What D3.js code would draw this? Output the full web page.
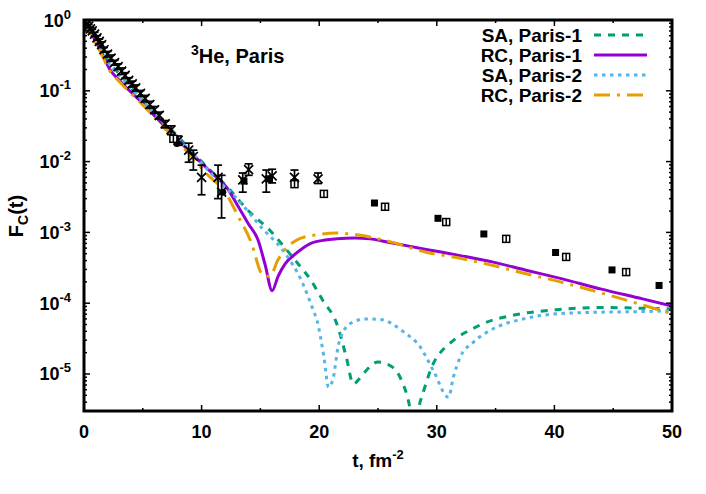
<!DOCTYPE html>
<html>
<head>
<meta charset="utf-8">
<script src="https://cdn.jsdelivr.net/npm/d3@7"></script>
<style>
    body { margin: 0; background: #fff; }
    text { font-family: "Liberation Sans", Arial, sans-serif; font-weight: bold; fill: #000; }
</style>
</head>
<body>
<div id="chart"></div>
<script>

// ---- data ----
// theory curves, [t (fm^-2), F_C]
const saParis1 = [[0,1],[0.4,0.79],[1,0.54],[1.6,0.355],[2.2,0.245],[3,0.174],[4.2,0.102],[6,0.050],[8,0.0224],[10,0.010],
    [12.4,0.0040],[14,0.0020],[15.8,0.00107],[17,6.3e-4],[18.2,3.6e-4],[19.3,2.1e-4],[20.3,1.1e-4],[21.5,5.1e-5],[22.3,1.74e-5],
    [22.9,7.2e-6],[23.5,8.9e-6],[24,1.12e-5],[25,1.48e-5],[26.2,1.26e-5],[27,8.1e-6],[27.7,3.4e-6],[28.1,1.3e-6],[28.5,3.5e-6],
    [28.9,5.9e-6],[29.7,1.4e-5],[30.3,2.0e-5],[31.1,2.7e-5],[32,3.5e-5],[33.1,4.4e-5],[34,5.2e-5],[36.8,6.9e-5],[40.2,8.1e-5],
    [44.2,8.7e-5],[47.3,8.5e-5],[50,8.3e-5]];

const rcParis1 = [[0,1],[0.4,0.76],[1,0.50],[1.6,0.32],[2.2,0.20],[3,0.141],[5,0.066],[7,0.030],[9,0.0138],[10,0.0095],
    [11,0.0066],[12.1,0.0044],[13,0.0025],[14,0.0013],[14.8,7.8e-4],[15.4,3.5e-4],[16.0,1.5e-4],[16.5,2.4e-4],[17.1,3.6e-4],
    [18,5.0e-4],[19.2,6.9e-4],[20.5,7.8e-4],[21.5,8.1e-4],[23,8.3e-4],[24.3,8.1e-4],[26,7.2e-4],[29.1,5.75e-4],[32,4.7e-4],
    [34.8,3.8e-4],[37.5,2.95e-4],[40.5,2.24e-4],[44,1.58e-4],[47.5,1.15e-4],[50,9.1e-5]];

const saParis2 = [[0,1],[0.4,0.78],[1,0.525],[1.6,0.34],[2.2,0.234],[3,0.166],[4.2,0.10],[6,0.048],[8,0.0214],[10,0.0095],
    [11.5,0.0052],[13,0.0030],[15.2,0.00112],[16.9,5.6e-4],[18.6,1.9e-4],[19.5,7.9e-5],[19.8,5.8e-5],[20.4,1.74e-5],[20.8,6.5e-6],
    [21.2,8.9e-6],[21.6,2.4e-5],[22.3,4.6e-5],[23,5.5e-5],[23.8,6.0e-5],[25.2,5.9e-5],[27.2,3.9e-5],[28.6,2.4e-5],[29.7,1.12e-5],
    [31.0,4.7e-6],[31.4,8.9e-6],[32,1.74e-5],[33.1,2.8e-5],[35.1,4.6e-5],[37.4,6.0e-5],[40.2,7.1e-5],[43,7.4e-5],[47.3,7.6e-5],
    [50,7.8e-5]];

const rcParis2 = [[0,1],[0.4,0.72],[1,0.47],[1.6,0.30],[2.2,0.19],[3,0.135],[5,0.063],[7,0.028],[9,0.0126],[10.4,0.0068],
    [12.1,0.0035],[13.1,0.0017],[14.3,6.6e-4],[15.0,2.8e-4],[15.4,2.4e-4],[15.8,2.4e-4],[16.5,4.1e-4],[17.2,6.0e-4],[18.1,7.8e-4],
    [19.5,9.1e-4],[21.5,9.8e-4],[23.5,9.1e-4],[26,7.4e-4],[29.1,5.25e-4],[32,4.3e-4],[34.8,3.4e-4],[37.5,2.63e-4],[40.5,2.0e-4],
    [43,1.55e-4],[45.6,1.17e-4],[48,8.9e-5],[50,7.1e-5]];

// experimental points: crosses with error bars [t, F, low, high]
const crossData = [[0.1,0.95,0.91,0.99],[0.25,0.88,0.84,0.92],[0.4,0.82,0.78,0.86],[0.55,0.75,0.71,0.79],[0.7,0.70,0.66,0.74],
    [0.9,0.63,0.59,0.67],[1.1,0.56,0.52,0.60],[1.3,0.50,0.46,0.54],[1.5,0.45,0.41,0.49],[1.7,0.38,0.35,0.41],[2.0,0.33,0.30,0.36],
    [2.3,0.29,0.26,0.32],[2.6,0.25,0.23,0.27],[2.9,0.22,0.20,0.24],[3.2,0.19,0.17,0.21],[3.5,0.165,0.15,0.18],[3.8,0.14,0.127,0.153],
    [4.1,0.125,0.113,0.137],[4.4,0.11,0.099,0.121],[4.8,0.092,0.083,0.101],[5.2,0.078,0.070,0.086],[5.6,0.064,0.057,0.071],
    [6.0,0.054,0.048,0.060],[6.4,0.045,0.040,0.050],[6.9,0.034,0.030,0.038],[7.4,0.028,0.024,0.032],[8.0,0.020,0.017,0.023],
    [8.9,0.0145,0.0098,0.0182],[9.3,0.0118,0.0076,0.0145],[10.0,0.0060,0.0034,0.0089],[11.4,0.0060,0.0030,0.0089],
    [11.7,0.0037,0.0016,0.0064],[13.5,0.0055,0.0037,0.0069],[14.0,0.0077,0.0064,0.0093],[15.5,0.0057,0.0037,0.0076],
    [16.0,0.0063,0.0050,0.0078],[17.9,0.0060,0.0055,0.0076],[19.9,0.0057,0.0049,0.0069]];

const circleData = [[7.9,0.018],[11.8,0.0037]];

const filledSquares = [[13.6,0.0053],[15.7,0.0057],[24.7,0.0026],[30.1,0.00158],[34.0,0.00095],[40.1,0.00052],[44.9,0.000295],[48.9,0.000178]];

const openSquares = [[7.6,0.021],[17.9,0.0048],[20.4,0.0035],[25.6,0.0023],[30.8,0.0014],[35.9,0.00081],[41.0,0.00045],[46.1,0.000275]];

// axes
const xTicks = [0, 10, 20, 30, 40, 50];
const xMinorTicks = [5, 15, 25, 35, 45];
const yTickExps = [0, -1, -2, -3, -4, -5];

const legendLabels = ["SA, Paris-1", "RC, Paris-1", "SA, Paris-2", "RC, Paris-2"];


// ---- drawing ----
const width = 706, height = 494;
const plot = {left: 84, right: 672, top: 20, bottom: 411};

const svg = d3.select("#chart").append("svg")
    .attr("width", width)
    .attr("height", height);

const x = d3.scaleLinear().domain([0, 50]).range([plot.left, plot.right]);
const y = d3.scaleLog().domain([3e-6, 1]).range([plot.bottom, plot.top]);

svg.append("clipPath").attr("id", "clip")
    .append("rect")
    .attr("x", plot.left).attr("y", plot.top)
    .attr("width", plot.right - plot.left).attr("height", plot.bottom - plot.top);

// series styles
const series = [
    {data: saParis1, color: "#009e73", dash: "7,7"},
    {data: rcParis1, color: "#9400d3", dash: null},
    {data: saParis2, color: "#56b4e9", dash: "3.5,4.5"},
    {data: rcParis2, color: "#e69f00", dash: "16,7,3,7"}
];

const line = d3.line()
    .x(d => x(d[0]))
    .y(d => y(d[1]))
    .curve(d3.curveMonotoneX);

const curves = svg.append("g").attr("clip-path", "url(#clip)");

curves.selectAll("path")
    .data(series)
    .enter().append("path")
    .attr("d", d => line(d.data))
    .attr("fill", "none")
    .attr("stroke", d => d.color)
    .attr("stroke-width", 3)
    .attr("stroke-dasharray", d => d.dash);

// data points
const pts = svg.append("g").attr("clip-path", "url(#clip)");

const errs = pts.selectAll(".err").data(crossData).enter().append("g").attr("class", "err");
errs.append("line")
    .attr("x1", d => x(d[0])).attr("x2", d => x(d[0]))
    .attr("y1", d => y(d[2])).attr("y2", d => y(d[3]));
errs.append("line")
    .attr("x1", d => x(d[0]) - 4).attr("x2", d => x(d[0]) + 4)
    .attr("y1", d => y(d[2])).attr("y2", d => y(d[2]));
errs.append("line")
    .attr("x1", d => x(d[0]) - 4).attr("x2", d => x(d[0]) + 4)
    .attr("y1", d => y(d[3])).attr("y2", d => y(d[3]));
errs.append("path")
    .attr("d", d => {
        let cx = x(d[0]), cy = y(d[1]), s = 4.5;
        return `M${cx - s},${cy - s}L${cx + s},${cy + s}M${cx - s},${cy + s}L${cx + s},${cy - s}`;
    });
errs.selectAll("line, path").attr("stroke", "#000").attr("stroke-width", 1.7);

pts.selectAll(".circ").data(circleData).enter().append("circle")
    .attr("cx", d => x(d[0])).attr("cy", d => y(d[1])).attr("r", 3.5)
    .attr("fill", "#000");

pts.selectAll(".fsq").data(filledSquares).enter().append("rect")
    .attr("x", d => x(d[0]) - 3.5).attr("y", d => y(d[1]) - 3.5)
    .attr("width", 7).attr("height", 7)
    .attr("fill", "#000");

const osq = pts.selectAll(".osq").data(openSquares).enter().append("g");
osq.append("rect")
    .attr("x", d => x(d[0]) - 3.5).attr("y", d => y(d[1]) - 3.5)
    .attr("width", 7).attr("height", 7)
    .attr("fill", "#fff").attr("stroke", "#000").attr("stroke-width", 1.5);
osq.append("line")
    .attr("x1", d => x(d[0])).attr("x2", d => x(d[0]))
    .attr("y1", d => y(d[1]) - 3.5).attr("y2", d => y(d[1]) + 3.5)
    .attr("stroke", "#000").attr("stroke-width", 1.5);

// ticks (inward, mirrored)
const tickG = svg.append("g").attr("stroke", "#000").attr("stroke-width", 1.5);

xTicks.concat(xMinorTicks).forEach(t => {
    let len = xTicks.includes(t) ? 6 : 3;
    tickG.append("line").attr("x1", x(t)).attr("x2", x(t)).attr("y1", plot.bottom).attr("y2", plot.bottom - len);
    tickG.append("line").attr("x1", x(t)).attr("x2", x(t)).attr("y1", plot.top).attr("y2", plot.top + len);
});

let yMinor = [];
yTickExps.concat([-6]).forEach(e => {
    for (let m = 2; m <= 9; m++) {
        let v = m * Math.pow(10, e);
        if (v >= 3e-6 && v < 1) yMinor.push(v);
    }
});
yMinor.forEach(v => {
    tickG.append("line").attr("x1", plot.left).attr("x2", plot.left + 3).attr("y1", y(v)).attr("y2", y(v));
    tickG.append("line").attr("x1", plot.right).attr("x2", plot.right - 3).attr("y1", y(v)).attr("y2", y(v));
});
yTickExps.forEach(e => {
    let v = Math.pow(10, e);
    tickG.append("line").attr("x1", plot.left).attr("x2", plot.left + 6).attr("y1", y(v)).attr("y2", y(v));
    tickG.append("line").attr("x1", plot.right).attr("x2", plot.right - 6).attr("y1", y(v)).attr("y2", y(v));
});

// frame
svg.append("rect")
    .attr("x", plot.left).attr("y", plot.top)
    .attr("width", plot.right - plot.left).attr("height", plot.bottom - plot.top)
    .attr("fill", "none").attr("stroke", "#000").attr("stroke-width", 3);

// tick labels
svg.selectAll(".xlab").data(xTicks).enter().append("text")
    .attr("x", d => x(d)).attr("y", plot.bottom + 27)
    .attr("text-anchor", "middle")
    .style("font-size", "18px")
    .text(d => d);

const ylab = svg.selectAll(".ylab").data(yTickExps).enter().append("text")
    .attr("x", 71).attr("y", d => y(Math.pow(10, d)) + 6.5)
    .attr("text-anchor", "end")
    .style("font-size", "18px");
ylab.append("tspan").text("10");
ylab.append("tspan").attr("dy", -8).style("font-size", "13px").text(d => d);

// axis titles
const xt = svg.append("text")
    .attr("x", (plot.left + plot.right) / 2).attr("y", 467)
    .attr("text-anchor", "middle")
    .style("font-size", "19px");
xt.append("tspan").text("t, fm");
xt.append("tspan").attr("dy", -8).style("font-size", "13px").text("-2");

const yt = svg.append("text")
    .attr("transform", `translate(23, 216) rotate(-90)`)
    .attr("text-anchor", "middle")
    .style("font-size", "20px");
yt.append("tspan").text("F");
yt.append("tspan").attr("dy", 5).style("font-size", "14px").text("C");
yt.append("tspan").attr("dy", -5).text("(t)");

// annotation
const ann = svg.append("text")
    .attr("x", 191).attr("y", 63)
    .style("font-size", "20px");
ann.append("tspan").attr("dy", -8).style("font-size", "14px").text("3");
ann.append("tspan").attr("dy", 8).text("He, Paris");

// legend
const legend = svg.append("g");
series.forEach((s, i) => {
    let ly = 35 + i * 20;
    legend.append("text")
        .attr("x", 582).attr("y", ly + 6.5)
        .attr("text-anchor", "end")
        .style("font-size", "19px")
        .text(legendLabels[i]);
    legend.append("line")
        .attr("x1", 594).attr("x2", 647)
        .attr("y1", ly).attr("y2", ly)
        .attr("stroke", s.color).attr("stroke-width", 3)
        .attr("stroke-dasharray", s.dash);
});

</script>
</body>
</html>
